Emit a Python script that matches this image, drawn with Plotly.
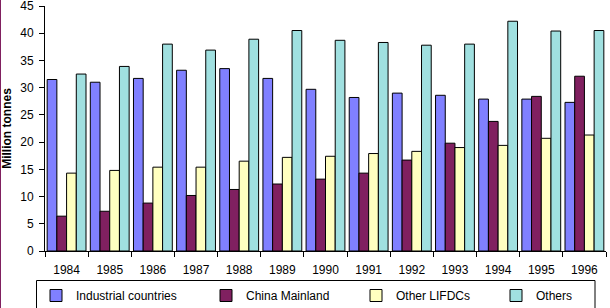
import plotly.graph_objects as go

years = ["1984", "1985", "1986", "1987", "1988", "1989", "1990",
         "1991", "1992", "1993", "1994", "1995", "1996"]

industrial = [31.5, 31.0, 31.7, 33.2, 33.5, 31.7, 29.7, 28.2, 29.0, 28.6, 27.9, 27.9, 27.3]
china = [6.4, 7.3, 8.8, 10.2, 11.3, 12.3, 13.2, 14.3, 16.7, 19.8, 23.8, 28.4, 32.1]
other_lifdcs = [14.3, 14.8, 15.4, 15.4, 16.5, 17.2, 17.4, 17.9, 18.3, 19.0, 19.4, 20.7, 21.3]
others = [32.5, 33.9, 38.0, 36.9, 38.9, 40.5, 38.7, 38.3, 37.8, 38.0, 42.2, 40.4, 40.5]

series_names = ["Industrial countries", "China Mainland", "Other LIFDCs", "Others"]
series_colors = ["#8080FF", "#802060", "#FFFFC0", "#A0E0E0"]
series_values = [industrial, china, other_lifdcs, others]

# figure geometry in pixels (plot area 45..606 x 6..251)
W, H = 610, 308
L, R, T, B = 45, 4, 6, 57
pw, ph = W - L - R, H - T - B


def px_x(x):
    return (x - L) / pw


def px_y(y):
    return (H - B - y) / ph


# legend item left edges, pixel x in the reference
legend_x = [36, 206, 356, 496]
legend_y = 295.5

fig = go.Figure()
for i, (name, color, vals) in enumerate(zip(series_names, series_colors, series_values)):
    lg = "legend" if i == 0 else f"legend{i + 1}"
    fig.add_trace(go.Bar(
        x=years, y=vals, name=name,
        marker=dict(color=color, line=dict(color="#000000", width=1)),
        legend=lg,
    ))

legend_common = dict(
    orientation="h", xanchor="left", yanchor="middle",
    bgcolor="rgba(0,0,0,0)", borderwidth=0, itemwidth=30,
    font=dict(family="Liberation Sans, Arial, sans-serif", size=12, color="#000000"),
)
legends = {}
for i, lx in enumerate(legend_x):
    key = "legend" if i == 0 else f"legend{i + 1}"
    legends[key] = dict(legend_common, x=px_x(lx), y=px_y(legend_y))

fig.update_layout(
    width=W, height=H,
    margin=dict(l=L, r=R, t=T, b=B, pad=0, autoexpand=False),
    paper_bgcolor="#ffffff",
    plot_bgcolor="#ffffff",
    barmode="group",
    bargap=0.10,
    bargroupgap=0,
    font=dict(family="Liberation Sans, Arial, sans-serif", size=12, color="#000000"),
    showlegend=True,
    **legends,
    shapes=[
        # legend frame
        dict(type="rect", xref="paper", yref="paper",
             x0=px_x(36.5), x1=px_x(595), y0=px_y(280.5), y1=px_y(320),
             line=dict(color="#000000", width=1), fillcolor="rgba(0,0,0,0)"),
        # left border of the chart area
        dict(type="line", xref="paper", yref="paper",
             x0=px_x(0.5), x1=px_x(0.5), y0=px_y(0), y1=px_y(308),
             line=dict(color="#802060", width=1)),
    ],
)

fig.update_xaxes(
    type="category",
    showline=True, linecolor="#000000", linewidth=1,
    showgrid=False, zeroline=False,
    ticks="outside", tickson="boundaries", ticklen=5, tickcolor="#000000",
    ticklabelstandoff=8,
    tickfont=dict(size=12, color="#000000"),
    ticklabeloverflow="allow",
)
fig.update_yaxes(
    range=[0, 45], dtick=5, tick0=0,
    showline=True, linecolor="#000000", linewidth=1,
    showgrid=False, zeroline=False,
    ticks="outside", ticklen=5, tickcolor="#000000",
    ticklabelstandoff=3,
    ticklabeloverflow="allow",
    tickfont=dict(size=12, color="#000000"),
    title=dict(text="<b>Million tonnes</b>", standoff=8,
               font=dict(size=12, color="#000000")),
)

# drop the browser's default body margin so the figure sits at the page corner
fig.write_html(
    "out.html",
    config={"displayModeBar": False},
    post_script="document.body.style.margin='0px';",
)
